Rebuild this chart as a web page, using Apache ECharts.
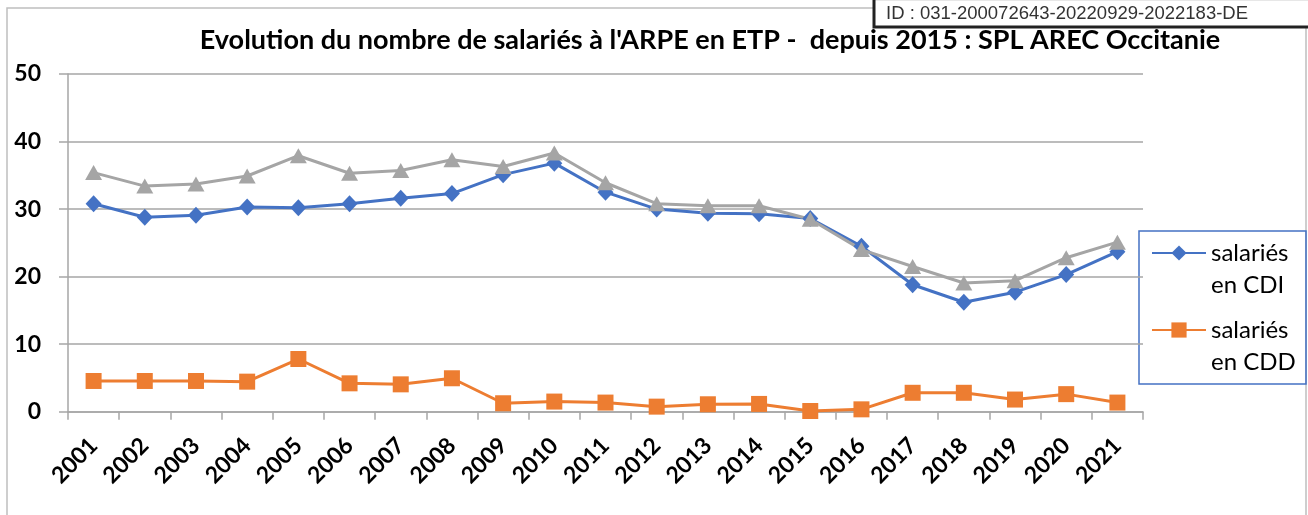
<!DOCTYPE html>
<html>
<head>
<meta charset="utf-8">
<script src="https://cdn.jsdelivr.net/npm/echarts@6/dist/echarts.min.js"></script>
<style>html,body{margin:0;padding:0;background:#fff;}#c{width:1308px;height:515px;}</style>
</head>
<body>
<div id="c"></div>
<script>
const years = ['2001','2002','2003','2004','2005','2006','2007','2008','2009','2010','2011','2012','2013','2014','2015','2016','2017','2018','2019','2020','2021'];
const cdi = [30.8, 28.8, 29.1, 30.3, 30.2, 30.8, 31.6, 32.3, 35.1, 36.8, 32.5, 30.0, 29.4, 29.3, 28.6, 24.5, 18.8, 16.2, 17.7, 20.3, 23.7];
const cdd = [4.55, 4.55, 4.55, 4.45, 7.8, 4.2, 4.05, 4.95, 1.25, 1.5, 1.35, 0.75, 1.1, 1.15, 0.1, 0.35, 2.8, 2.8, 1.8, 2.6, 1.35];
const total = [35.4, 33.4, 33.7, 34.9, 37.9, 35.3, 35.7, 37.3, 36.3, 38.3, 33.9, 30.8, 30.5, 30.5, 28.5, 24.0, 21.5, 19.05, 19.4, 22.8, 25.1];
const seriesNames = ['salariés\nen CDI', 'salariés\nen CDD', 'total salariés'];
const titleText = "Evolution du nombre de salariés à l'ARPE en ETP -  depuis 2015 : SPL AREC Occitanie";
const idText = 'ID : 031-200072643-20220929-2022183-DE';

const chart = echarts.init(document.getElementById('c'), null, {renderer: 'canvas'});
const F = 'Lato';
chart.setOption({
  animation: false,
  backgroundColor: '#fff',
  title: {
    text: titleText,
    left: 710, top: 27, padding: 0, textAlign: 'center',
    textStyle: {fontFamily: F, fontWeight: 'bold', fontSize: 27, color: '#000'}
  },
  grid: {left: 68, right: 165, top: 74, bottom: 103.3, containLabel: false},
  legend: {
    data: [seriesNames[0], seriesNames[1]],
    orient: 'vertical', left: 1151, top: 205, padding: 0,
    itemWidth: 54, itemHeight: 19, itemGap: -19,
    formatter: function (name) {
      return '{t|}\n' + name.split('\n').map(function (s) { return '{t|' + s + '}'; }).join('\n');
    },
    textStyle: {
      fontFamily: F, fontSize: 24, color: '#000', lineHeight: 32,
      rich: {t: {fontFamily: F, fontSize: 24, color: '#000', lineHeight: 32}}
    }
  },
  xAxis: {
    type: 'category', data: years, boundaryGap: true,
    axisLine: {lineStyle: {color: '#a6a6a6', width: 1.5}},
    axisTick: {show: true, length: 8, lineStyle: {color: '#a6a6a6', width: 1.5}},
    axisLabel: {rotate: 45, margin: 30, interval: 0, fontFamily: F, fontWeight: 'bold', fontSize: 23, color: '#000'}
  },
  yAxis: {
    type: 'value', min: 0, max: 50, interval: 10,
    axisLine: {show: true, lineStyle: {color: '#a6a6a6', width: 1.5}},
    axisTick: {show: true, length: 9, lineStyle: {color: '#a6a6a6', width: 1.5}},
    splitLine: {lineStyle: {color: '#a6a6a6', width: 1.5}},
    axisLabel: {margin: 27, fontFamily: F, fontWeight: 'bold', fontSize: 23, color: '#000'}
  },
  series: [
    {name: seriesNames[0], type: 'line', data: cdi, symbol: 'diamond', symbolSize: [16, 17],
     lineStyle: {color: '#4472c4', width: 3}, itemStyle: {color: '#4472c4'}},
    {name: seriesNames[1], type: 'line', data: cdd, symbol: 'rect', symbolSize: 16,
     lineStyle: {color: '#ed7d31', width: 3}, itemStyle: {color: '#ed7d31'}},
    {name: seriesNames[2], type: 'line', data: total, symbol: 'triangle', symbolSize: [17, 15],
     lineStyle: {color: '#a5a5a5', width: 3}, itemStyle: {color: '#a5a5a5'}}
  ],
  graphic: [
    {type: 'rect', shape: {x: 7, y: 8, width: 1299, height: 600}, style: {fill: null, stroke: '#bfbfbf', lineWidth: 1.5}, silent: true, z: -10},
    {type: 'rect', shape: {x: 1139, y: 231, width: 167, height: 153}, style: {fill: null, stroke: '#4472c4', lineWidth: 1.5}, silent: true},
    {type: 'rect', shape: {x: 874, y: 0, width: 440, height: 27}, style: {fill: '#fff', stroke: '#d0d0d0', lineWidth: 1}, silent: true, z: 10},
    {type: 'polyline', shape: {points: [[874, 0], [874, 27], [1312, 27]]}, style: {stroke: '#222', lineWidth: 3, fill: null}, silent: true, z: 11},
    {type: 'text', x: 886, y: 14, style: {text: idText, font: '18.5px "Liberation Sans", Arial, sans-serif', fill: '#333', verticalAlign: 'middle'}, silent: true, z: 12}
  ]
});
</script>
</body>
</html>
